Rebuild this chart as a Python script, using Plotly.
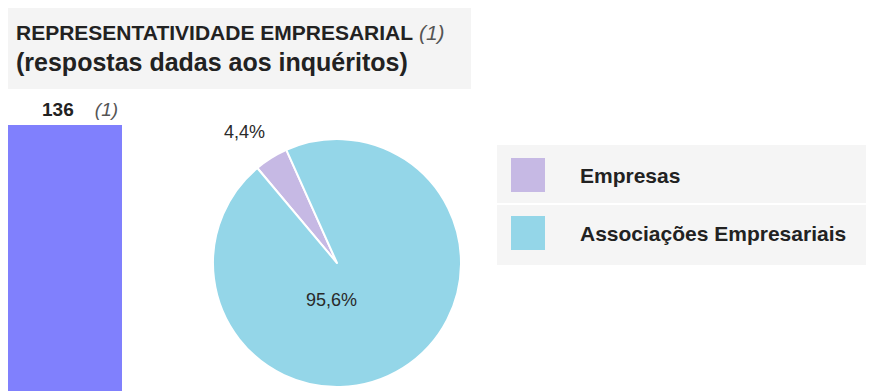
import plotly.graph_objects as go

# the page puts the figure 8px in from the top-left corner
OFF = 8
W, H = 874 - OFF, 391 - OFF

# data
categories = ["Empresas", "Associações Empresariais"]
values = [6, 130]
colors = ["#c6b9e4", "#94d6e8"]
total_label = ["Total"]
total_values = [136]
bar_color = "#8080fd"

title_line1 = "REPRESENTATIVIDADE EMPRESARIAL"
title_line2 = "(respostas dadas aos inquéritos)"
note = "(1)"


def px(x):
    return (x - OFF) / W


def py(y):
    return 1 - (y - OFF) / H


def pct(v):
    return ("%.1f%%" % (100.0 * v / sum(values))).replace(".", ",")


fig = go.Figure()

# total bar
fig.add_trace(go.Bar(
    x=total_label, y=total_values, width=1,
    marker=dict(color=bar_color, line=dict(width=0)),
    xaxis="x", yaxis="y", showlegend=False, hoverinfo="skip",
))

# pie
fig.add_trace(go.Pie(
    labels=categories, values=values, sort=False,
    direction="clockwise", rotation=-40,
    marker=dict(colors=colors, line=dict(color="white", width=2)),
    textinfo="none",
    domain=dict(x=[px(213), px(461)], y=[py(387), py(139)]),
    showlegend=False,
))

shapes = [
    # title box
    dict(type="rect", xref="paper", yref="paper", x0=px(8), x1=px(471), y0=py(89), y1=py(8),
         fillcolor="#f4f4f4", line=dict(width=0), layer="below"),
    # legend box
    dict(type="rect", xref="paper", yref="paper", x0=px(497), x1=px(874), y0=py(265), y1=py(145),
         fillcolor="#f5f5f5", line=dict(width=0), layer="below"),
    dict(type="line", xref="paper", yref="paper", x0=px(497), x1=px(874), y0=py(204), y1=py(204),
         line=dict(color="white", width=2)),
]

annotations = [
    dict(text="<b>%s</b> <i style='color:#555'>%s</i>" % (title_line1, note),
         x=px(14), y=py(33), xanchor="left", yanchor="middle",
         font=dict(size=21, color="#222")),
    dict(text="<b>" + title_line2 + "</b>", x=px(14), y=py(62), xanchor="left", yanchor="middle",
         font=dict(size=25, color="#222")),
    dict(text="<b>%d</b>&nbsp;&nbsp;&nbsp;&nbsp;<i style='color:#555'>%s</i>" % (total_values[0], note),
         xref="x", yref="y", x=0, y=total_values[0], xanchor="center", yanchor="bottom",
         xshift=15, yshift=3, showarrow=False, font=dict(size=19, color="#222")),
    # pie percentages
    dict(text=pct(values[0]), x=px(244), y=py(132), xanchor="center", yanchor="middle",
         font=dict(size=18, color="#2a2a2a")),
    dict(text=pct(values[1]), x=px(331), y=py(300), xanchor="center", yanchor="middle",
         font=dict(size=18, color="#2a2a2a")),
]

legend_rows = [175, 233]
for cat, col, yc in zip(categories, colors, legend_rows):
    shapes.append(dict(type="rect", xref="paper", yref="paper",
                       x0=px(511), x1=px(545), y0=py(yc + 17), y1=py(yc - 17),
                       fillcolor=col, line=dict(width=0)))
    annotations.append(dict(text="<b>" + cat + "</b>", x=px(578), y=py(yc),
                            xanchor="left", yanchor="middle",
                            font=dict(size=21, color="#222")))

for a in annotations:
    a.setdefault("xref", "paper")
    a.setdefault("yref", "paper")
    a.setdefault("showarrow", False)

fig.update_layout(
    width=W, height=H,
    margin=dict(l=0, r=0, t=0, b=0),
    paper_bgcolor="white", plot_bgcolor="white",
    font=dict(family="Liberation Sans, Arial, sans-serif"),
    xaxis=dict(domain=[0, px(122)], range=[-0.5, 0.5], visible=False, fixedrange=True),
    yaxis=dict(domain=[0, py(125)], range=[0, total_values[0]], visible=False, fixedrange=True),
    shapes=shapes, annotations=annotations,
    showlegend=False,
)

fig.write_html("out.html")
